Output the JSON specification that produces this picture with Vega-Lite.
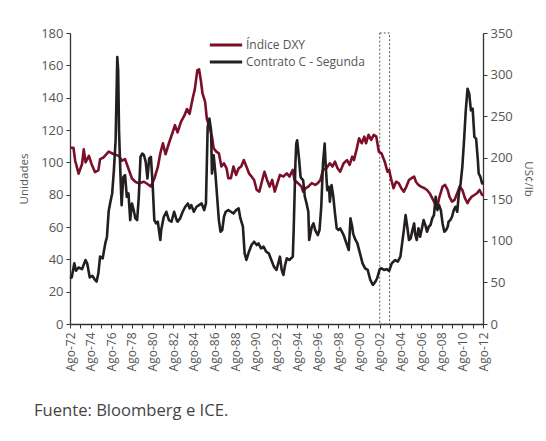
{
  "$schema": "https://vega.github.io/schema/vega-lite/v6.json",
  "width": 413,
  "height": 291,
  "autosize": "none",
  "padding": {"left": 70, "top": 33, "right": 63, "bottom": 117},
  "background": "white",
  "config": {
    "font": "Open Sans",
    "view": {"stroke": null},
    "axis": {
      "grid": false,
      "domainColor": "#333333",
      "domainWidth": 1.3,
      "tickColor": "#333333",
      "tickSize": 4,
      "labelColor": "#555555",
      "labelFontSize": 13,
      "labelOverlap": false,
      "titleColor": "#555555",
      "titleFontSize": 11.5,
      "titleFontWeight": "normal"
    }
  },
  "title": {
    "text": "Fuente: Bloomberg e ICE.",
    "orient": "bottom",
    "anchor": "start",
    "frame": "group",
    "dx": -36,
    "offset": 32,
    "fontSize": 16.6,
    "fontWeight": "normal",
    "color": "#444444"
  },
  "datasets": {
    "dxy": [
      {"date":"1972-08-01","value":109},{"date":"1972-12-01","value":109},{"date":"1973-02-01","value":101},{"date":"1973-06-01","value":93},{"date":"1973-10-01","value":99},{"date":"1973-12-01","value":108},{"date":"1974-02-01","value":100},{"date":"1974-06-01","value":104},{"date":"1974-09-01","value":99},{"date":"1975-01-01","value":94},{"date":"1975-05-01","value":95},{"date":"1975-07-01","value":102},{"date":"1975-11-01","value":103},{"date":"1976-05-01","value":106.6},{"date":"1976-11-01","value":105},{"date":"1977-05-01","value":104},{"date":"1977-08-01","value":101},{"date":"1977-12-01","value":102},{"date":"1978-04-01","value":96},{"date":"1978-08-01","value":90},{"date":"1978-12-01","value":88},{"date":"1979-04-01","value":87},{"date":"1979-10-01","value":88},{"date":"1980-02-01","value":86.6},{"date":"1980-06-01","value":85},{"date":"1980-10-01","value":90},{"date":"1981-02-01","value":97},{"date":"1981-05-01","value":105.6},{"date":"1981-08-01","value":111.8},{"date":"1981-11-01","value":105},{"date":"1982-03-01","value":111.8},{"date":"1982-07-01","value":118},{"date":"1982-10-01","value":123},{"date":"1983-01-01","value":118.5},{"date":"1983-05-01","value":125},{"date":"1983-09-01","value":129},{"date":"1983-12-01","value":133},{"date":"1984-03-01","value":130},{"date":"1984-07-01","value":140.6},{"date":"1984-09-01","value":145},{"date":"1984-12-01","value":157},{"date":"1985-02-01","value":157.5},{"date":"1985-04-01","value":151},{"date":"1985-06-01","value":142.6},{"date":"1985-09-01","value":137.5},{"date":"1985-11-01","value":127},{"date":"1986-02-01","value":122},{"date":"1986-05-01","value":116},{"date":"1986-07-01","value":108.7},{"date":"1986-10-01","value":106.6},{"date":"1987-01-01","value":105.6},{"date":"1987-04-01","value":97.4},{"date":"1987-07-01","value":99.4},{"date":"1987-10-01","value":96.3},{"date":"1987-12-01","value":90.2},{"date":"1988-03-01","value":90.2},{"date":"1988-06-01","value":97.4},{"date":"1988-09-01","value":92.2},{"date":"1988-12-01","value":96.3},{"date":"1989-03-01","value":97.4},{"date":"1989-06-01","value":101.4},{"date":"1989-09-01","value":97.4},{"date":"1989-12-01","value":93.2},{"date":"1990-03-01","value":91.2},{"date":"1990-06-01","value":89.1},{"date":"1990-09-01","value":82.9},{"date":"1990-12-01","value":81.9},{"date":"1991-03-01","value":88},{"date":"1991-06-01","value":94.2},{"date":"1991-09-01","value":89.1},{"date":"1991-12-01","value":85},{"date":"1992-03-01","value":89.1},{"date":"1992-06-01","value":81.9},{"date":"1992-09-01","value":87.1},{"date":"1992-12-01","value":92.2},{"date":"1993-04-01","value":91.2},{"date":"1993-08-01","value":93.2},{"date":"1993-11-01","value":91.2},{"date":"1994-03-01","value":95.3},{"date":"1994-05-01","value":89.1},{"date":"1994-09-01","value":87.1},{"date":"1995-01-01","value":85},{"date":"1995-03-01","value":81.9},{"date":"1995-06-01","value":84},{"date":"1995-09-01","value":85},{"date":"1996-01-01","value":87.1},{"date":"1996-05-01","value":86},{"date":"1996-08-01","value":87.1},{"date":"1996-11-01","value":89.1},{"date":"1997-02-01","value":95.3},{"date":"1997-06-01","value":96.3},{"date":"1997-10-01","value":99.4},{"date":"1998-01-01","value":97.4},{"date":"1998-04-01","value":100.4},{"date":"1998-07-01","value":96.3},{"date":"1998-10-01","value":94.2},{"date":"1999-02-01","value":99.4},{"date":"1999-06-01","value":101.4},{"date":"1999-09-01","value":98.4},{"date":"1999-12-01","value":103.5},{"date":"2000-02-01","value":101.4},{"date":"2000-05-01","value":107.7},{"date":"2000-08-01","value":114.9},{"date":"2000-11-01","value":111.8},{"date":"2001-02-01","value":115.9},{"date":"2001-04-01","value":111.8},{"date":"2001-07-01","value":117},{"date":"2001-10-01","value":113.9},{"date":"2002-01-01","value":117},{"date":"2002-04-01","value":115.9},{"date":"2002-07-01","value":106.6},{"date":"2002-10-01","value":105.6},{"date":"2003-02-01","value":100},{"date":"2003-05-01","value":94.2},{"date":"2003-07-01","value":95.3},{"date":"2003-09-01","value":90.2},{"date":"2003-12-01","value":84},{"date":"2004-03-01","value":88},{"date":"2004-06-01","value":87.1},{"date":"2004-09-01","value":84},{"date":"2004-12-01","value":81.9},{"date":"2005-03-01","value":85},{"date":"2005-06-01","value":89.1},{"date":"2005-09-01","value":90.2},{"date":"2005-12-01","value":91.2},{"date":"2006-02-01","value":88},{"date":"2006-05-01","value":86},{"date":"2006-08-01","value":85},{"date":"2006-12-01","value":84},{"date":"2007-03-01","value":82.9},{"date":"2007-06-01","value":80.9},{"date":"2007-09-01","value":77.8},{"date":"2007-12-01","value":74.7},{"date":"2008-03-01","value":72.6},{"date":"2008-05-01","value":77.8},{"date":"2008-09-01","value":85},{"date":"2008-12-01","value":86},{"date":"2009-03-01","value":82.9},{"date":"2009-05-01","value":78.8},{"date":"2009-08-01","value":75.7},{"date":"2009-11-01","value":76.8},{"date":"2010-02-01","value":80.9},{"date":"2010-05-01","value":85},{"date":"2010-08-01","value":82.9},{"date":"2010-11-01","value":77.8},{"date":"2011-02-01","value":74.7},{"date":"2011-04-01","value":76.8},{"date":"2011-07-01","value":78.8},{"date":"2011-10-01","value":79.8},{"date":"2012-01-01","value":80.9},{"date":"2012-04-01","value":82.9},{"date":"2012-07-01","value":79.8},{"date":"2012-08-01","value":80}
    ],
    "coffee": [
      {"date":"1972-08-01","value":55},{"date":"1972-10-01","value":56},{"date":"1973-01-01","value":73},{"date":"1973-03-01","value":64},{"date":"1973-06-01","value":68},{"date":"1973-10-01","value":66},{"date":"1974-02-01","value":77},{"date":"1974-04-01","value":73},{"date":"1974-07-01","value":56},{"date":"1974-10-01","value":58},{"date":"1975-01-01","value":53},{"date":"1975-03-01","value":51},{"date":"1975-05-01","value":61},{"date":"1975-07-01","value":81},{"date":"1975-10-01","value":79},{"date":"1976-01-01","value":97},{"date":"1976-03-01","value":105},{"date":"1976-05-01","value":136},{"date":"1976-07-01","value":147},{"date":"1976-09-01","value":157},{"date":"1976-11-01","value":185},{"date":"1977-01-01","value":221},{"date":"1977-03-01","value":321},{"date":"1977-04-01","value":305},{"date":"1977-05-01","value":233},{"date":"1977-07-01","value":169},{"date":"1977-08-01","value":143},{"date":"1977-10-01","value":177},{"date":"1977-12-01","value":179},{"date":"1978-02-01","value":153},{"date":"1978-04-01","value":157},{"date":"1978-06-01","value":125},{"date":"1978-08-01","value":145},{"date":"1978-10-01","value":137},{"date":"1978-12-01","value":127},{"date":"1979-02-01","value":125},{"date":"1979-04-01","value":153},{"date":"1979-06-01","value":201},{"date":"1979-08-01","value":205},{"date":"1979-10-01","value":203},{"date":"1979-12-01","value":195},{"date":"1980-02-01","value":175},{"date":"1980-04-01","value":199},{"date":"1980-06-01","value":201},{"date":"1980-08-01","value":169},{"date":"1980-10-01","value":125},{"date":"1980-12-01","value":121},{"date":"1981-02-01","value":123},{"date":"1981-05-01","value":101},{"date":"1981-06-01","value":113},{"date":"1981-09-01","value":129},{"date":"1981-12-01","value":135},{"date":"1982-03-01","value":125},{"date":"1982-06-01","value":123},{"date":"1982-09-01","value":135},{"date":"1982-12-01","value":125},{"date":"1983-01-01","value":123},{"date":"1983-04-01","value":127},{"date":"1983-07-01","value":135},{"date":"1983-10-01","value":141},{"date":"1984-01-01","value":145},{"date":"1984-03-01","value":139},{"date":"1984-05-01","value":143},{"date":"1984-08-01","value":135},{"date":"1984-11-01","value":141},{"date":"1985-02-01","value":143},{"date":"1985-05-01","value":145},{"date":"1985-08-01","value":137},{"date":"1985-10-01","value":145},{"date":"1985-12-01","value":237},{"date":"1986-02-01","value":247},{"date":"1986-04-01","value":233},{"date":"1986-05-01","value":181},{"date":"1986-07-01","value":203},{"date":"1986-09-01","value":181},{"date":"1986-11-01","value":153},{"date":"1987-01-01","value":125},{"date":"1987-03-01","value":111},{"date":"1987-05-01","value":113},{"date":"1987-07-01","value":129},{"date":"1987-09-01","value":135},{"date":"1987-12-01","value":137},{"date":"1988-03-01","value":135},{"date":"1988-06-01","value":133},{"date":"1988-09-01","value":137},{"date":"1988-12-01","value":139},{"date":"1989-02-01","value":127},{"date":"1989-05-01","value":117},{"date":"1989-07-01","value":85},{"date":"1989-09-01","value":77},{"date":"1989-12-01","value":87},{"date":"1990-03-01","value":95},{"date":"1990-06-01","value":99},{"date":"1990-09-01","value":95},{"date":"1990-11-01","value":97},{"date":"1991-02-01","value":91},{"date":"1991-05-01","value":93},{"date":"1991-08-01","value":87},{"date":"1991-11-01","value":85},{"date":"1992-02-01","value":77},{"date":"1992-05-01","value":69},{"date":"1992-08-01","value":65},{"date":"1992-11-01","value":77},{"date":"1992-12-01","value":81},{"date":"1993-02-01","value":65},{"date":"1993-04-01","value":59},{"date":"1993-06-01","value":71},{"date":"1993-08-01","value":79},{"date":"1993-11-01","value":77},{"date":"1994-03-01","value":81},{"date":"1994-04-01","value":113},{"date":"1994-06-01","value":193},{"date":"1994-07-01","value":217},{"date":"1994-08-01","value":221},{"date":"1994-10-01","value":201},{"date":"1994-12-01","value":177},{"date":"1995-01-01","value":175},{"date":"1995-03-01","value":173},{"date":"1995-05-01","value":153},{"date":"1995-07-01","value":145},{"date":"1995-09-01","value":135},{"date":"1995-10-01","value":101},{"date":"1996-01-01","value":117},{"date":"1996-03-01","value":121},{"date":"1996-05-01","value":113},{"date":"1996-07-01","value":109},{"date":"1996-08-01","value":107},{"date":"1996-10-01","value":113},{"date":"1996-12-01","value":141},{"date":"1997-02-01","value":193},{"date":"1997-04-01","value":217},{"date":"1997-05-01","value":195},{"date":"1997-07-01","value":161},{"date":"1997-09-01","value":165},{"date":"1997-10-01","value":147},{"date":"1997-12-01","value":167},{"date":"1998-02-01","value":153},{"date":"1998-04-01","value":133},{"date":"1998-06-01","value":115},{"date":"1998-08-01","value":113},{"date":"1998-10-01","value":115},{"date":"1998-12-01","value":111},{"date":"1999-02-01","value":107},{"date":"1999-04-01","value":101},{"date":"1999-06-01","value":95},{"date":"1999-08-01","value":89},{"date":"1999-10-01","value":127},{"date":"1999-12-01","value":117},{"date":"2000-01-01","value":109},{"date":"2000-03-01","value":103},{"date":"2000-06-01","value":97},{"date":"2000-09-01","value":85},{"date":"2000-12-01","value":73},{"date":"2001-03-01","value":67},{"date":"2001-06-01","value":65},{"date":"2001-09-01","value":53},{"date":"2001-12-01","value":47},{"date":"2002-03-01","value":51},{"date":"2002-05-01","value":55},{"date":"2002-08-01","value":66},{"date":"2002-10-01","value":67},{"date":"2003-01-01","value":65},{"date":"2003-04-01","value":66},{"date":"2003-07-01","value":64},{"date":"2003-10-01","value":73},{"date":"2004-02-01","value":77},{"date":"2004-05-01","value":75},{"date":"2004-08-01","value":81},{"date":"2004-10-01","value":97},{"date":"2004-12-01","value":113},{"date":"2005-02-01","value":131},{"date":"2005-04-01","value":117},{"date":"2005-06-01","value":101},{"date":"2005-08-01","value":103},{"date":"2005-10-01","value":113},{"date":"2005-12-01","value":121},{"date":"2006-01-01","value":109},{"date":"2006-03-01","value":101},{"date":"2006-05-01","value":115},{"date":"2006-07-01","value":105},{"date":"2006-09-01","value":115},{"date":"2006-11-01","value":125},{"date":"2007-01-01","value":119},{"date":"2007-03-01","value":111},{"date":"2007-05-01","value":117},{"date":"2007-07-01","value":119},{"date":"2007-09-01","value":127},{"date":"2007-11-01","value":131},{"date":"2008-01-01","value":153},{"date":"2008-03-01","value":137},{"date":"2008-05-01","value":143},{"date":"2008-07-01","value":137},{"date":"2008-09-01","value":121},{"date":"2008-11-01","value":111},{"date":"2009-01-01","value":113},{"date":"2009-03-01","value":117},{"date":"2009-04-01","value":123},{"date":"2009-06-01","value":125},{"date":"2009-08-01","value":129},{"date":"2009-10-01","value":137},{"date":"2009-12-01","value":141},{"date":"2010-02-01","value":135},{"date":"2010-04-01","value":157},{"date":"2010-06-01","value":169},{"date":"2010-08-01","value":189},{"date":"2010-10-01","value":221},{"date":"2010-12-01","value":257},{"date":"2011-02-01","value":283},{"date":"2011-04-01","value":277},{"date":"2011-06-01","value":257},{"date":"2011-08-01","value":259},{"date":"2011-10-01","value":225},{"date":"2011-12-01","value":223},{"date":"2012-02-01","value":197},{"date":"2012-03-01","value":181},{"date":"2012-05-01","value":177},{"date":"2012-07-01","value":169},{"date":"2012-08-01","value":172}
    ],
    "window": [
      {"date":"2002-08-01","date2":"2003-07-15"}
    ]
  },
  "encoding": {
    "x": {
      "field": "date",
      "type": "temporal",
      "scale": {
        "type": "utc",
        "domain": [{"year":1972,"month":8,"date":1,"utc":true},{"year":2012,"month":8,"date":1,"utc":true}]
      },
      "axis": {
        "title": null,
        "labelAngle": 270,
        "labelFontSize": 12,
        "labelPadding": 4,
        "values": [
          {"year":1972,"month":8,"date":1,"utc":true},{"year":1973,"month":8,"date":1,"utc":true},{"year":1974,"month":8,"date":1,"utc":true},{"year":1975,"month":8,"date":1,"utc":true},{"year":1976,"month":8,"date":1,"utc":true},{"year":1977,"month":8,"date":1,"utc":true},{"year":1978,"month":8,"date":1,"utc":true},{"year":1979,"month":8,"date":1,"utc":true},{"year":1980,"month":8,"date":1,"utc":true},{"year":1981,"month":8,"date":1,"utc":true},{"year":1982,"month":8,"date":1,"utc":true},{"year":1983,"month":8,"date":1,"utc":true},{"year":1984,"month":8,"date":1,"utc":true},{"year":1985,"month":8,"date":1,"utc":true},{"year":1986,"month":8,"date":1,"utc":true},{"year":1987,"month":8,"date":1,"utc":true},{"year":1988,"month":8,"date":1,"utc":true},{"year":1989,"month":8,"date":1,"utc":true},{"year":1990,"month":8,"date":1,"utc":true},{"year":1991,"month":8,"date":1,"utc":true},{"year":1992,"month":8,"date":1,"utc":true},{"year":1993,"month":8,"date":1,"utc":true},{"year":1994,"month":8,"date":1,"utc":true},{"year":1995,"month":8,"date":1,"utc":true},{"year":1996,"month":8,"date":1,"utc":true},{"year":1997,"month":8,"date":1,"utc":true},{"year":1998,"month":8,"date":1,"utc":true},{"year":1999,"month":8,"date":1,"utc":true},{"year":2000,"month":8,"date":1,"utc":true},{"year":2001,"month":8,"date":1,"utc":true},{"year":2002,"month":8,"date":1,"utc":true},{"year":2003,"month":8,"date":1,"utc":true},{"year":2004,"month":8,"date":1,"utc":true},{"year":2005,"month":8,"date":1,"utc":true},{"year":2006,"month":8,"date":1,"utc":true},{"year":2007,"month":8,"date":1,"utc":true},{"year":2008,"month":8,"date":1,"utc":true},{"year":2009,"month":8,"date":1,"utc":true},{"year":2010,"month":8,"date":1,"utc":true},{"year":2011,"month":8,"date":1,"utc":true},{"year":2012,"month":8,"date":1,"utc":true}
        ],
        "labelExpr": "utcyear(datum.value) % 2 == 0 ? 'Ago-' + utcFormat(datum.value, '%y') : ''"
      }
    }
  },
  "layer": [
    {
      "layer": [
        {
          "data": {"name": "window"},
          "mark": {"type": "rect", "fillOpacity": 0, "stroke": "#555555", "strokeWidth": 1, "strokeDash": [2, 2]},
          "encoding": {
            "x2": {"field": "date2"},
            "y": {"datum": 0, "type": "quantitative", "axis": {"title": "Unidades", "values": [0,20,40,60,80,100,120,140,160,180], "labelOverlap": false, "titlePadding": 11, "labelPadding": 3}},
            "y2": {"datum": 180}
          }
        },
        {
          "data": {"name": "dxy"},
          "mark": {"type": "line", "strokeWidth": 2.6, "strokeJoin": "round"},
          "encoding": {
            "y": {
              "field": "value",
              "type": "quantitative",
              "scale": {"domain": [0, 180]},
              "axis": {"title": "Unidades", "values": [0,20,40,60,80,100,120,140,160,180], "labelOverlap": false, "titlePadding": 11, "labelPadding": 3}
            },
            "color": {
              "datum": "Índice DXY",
              "type": "nominal",
              "scale": {"domain": ["Índice DXY", "Contrato C - Segunda"], "range": ["#7b0f2a", "#231f20"]},
              "legend": {
                "title": null,
                "orient": "none",
                "legendX": 145,
                "legendY": 1,
                "symbolType": "M-1.7,0H1.7",
                "symbolStrokeWidth": 3,
                "symbolSize": 361,
                "labelFontSize": 12,
                "labelColor": "#555555",
                "labelOffset": 9,
                "rowPadding": 0
              }
            }
          }
        }
      ]
    },
    {
      "data": {"name": "coffee"},
      "mark": {"type": "line", "strokeWidth": 2.6, "strokeJoin": "round"},
      "encoding": {
        "y": {
          "field": "value",
          "type": "quantitative",
          "scale": {"domain": [0, 350]},
          "axis": {"orient": "right", "title": "US¢/lb", "values": [0,50,100,150,200,250,300,350], "labelOverlap": false, "titlePadding": 10, "labelPadding": 3}
        },
        "color": {"datum": "Contrato C - Segunda", "type": "nominal"}
      }
    }
  ],
  "resolve": {"scale": {"y": "independent"}}
}
